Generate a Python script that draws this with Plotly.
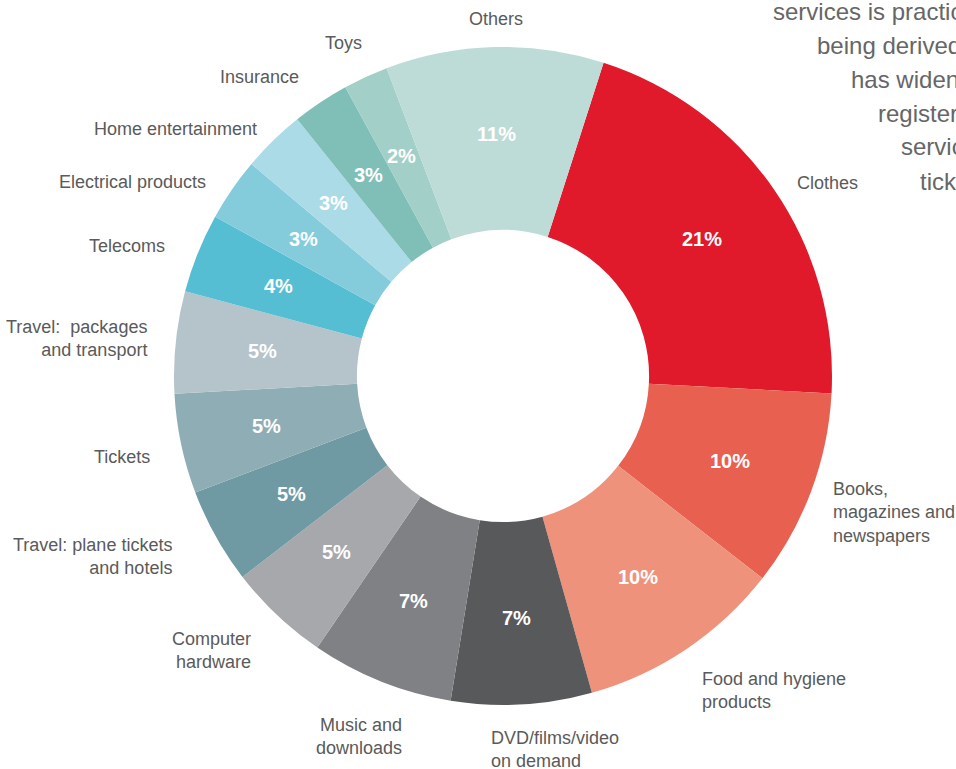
import math
import plotly.graph_objects as go

W, H = 956, 769

# ---- data ----
categories = [
    "Clothes", "Books, magazines and newspapers", "Food and hygiene products",
    "DVD/films/video on demand", "Music and downloads", "Computer hardware",
    "Travel: plane tickets and hotels", "Tickets", "Travel:  packages and transport",
    "Telecoms", "Electrical products", "Home entertainment", "Insurance", "Toys", "Others",
]
shares = [20.9, 9.7, 10.1, 6.9, 7.0, 5.0, 4.7, 4.9, 5.0, 3.9, 3.1, 3.1, 2.8, 2.2, 10.7]
display_labels = [
    "Clothes", "Books,<br>magazines and<br>newspapers", "Food and hygiene<br>products",
    "DVD/films/video<br>on demand", "Music and<br>downloads", "Computer<br>hardware",
    "Travel: plane tickets<br>and hotels", "Tickets", "Travel:  packages<br>and transport",
    "Telecoms", "Electrical products", "Home entertainment", "Insurance", "Toys", "Others",
]
side_text_lines = ["services is practically", "being derived", "has widened",
                   "registered", "services", "tickets"]

# ---- styles / positions ----
colors = [
    "#E01A2B", "#E8604F", "#EE927C", "#58595B", "#808184", "#A7A8AB",
    "#6F9AA4", "#8FADB5", "#B4C4CA", "#55BED3", "#84CBDB", "#ABDBE7",
    "#7FBFB7", "#A2CFC8", "#BDDCD7",
]
# (x px, y px, xanchor) for each outside label
label_pos = [
    (795, 183, "left"), (831, 512, "left"), (700, 690, "left"),
    (489, 749, "left"), (404, 736, "right"), (253, 650, "right"),
    (174, 556, "right"), (152, 457, "right"), (149, 339, "right"),
    (167, 246, "right"), (208, 182, "right"), (259, 129, "right"),
    (301, 77, "right"), (343, 43, "center"), (496, 19, "center"),
]
side_text_x = [771, 815, 849, 876, 899, 918]
side_text_y = [12, 45, 79, 113, 147, 181]

cx, cy, R = 503, 376, 329
START_DEG = 17.8
HOLE = 0.444
TEXT_R = 242
FONT = "Liberation Sans, Arial, sans-serif"

fig = go.Figure(go.Pie(
    labels=categories,
    values=shares,
    sort=False,
    direction="clockwise",
    rotation=START_DEG,
    hole=HOLE,
    marker=dict(colors=colors, line=dict(width=0)),
    textinfo="none",
    domain=dict(x=[(cx - R) / W, (cx + R) / W], y=[1 - (cy + R) / H, 1 - (cy - R) / H]),
    showlegend=False,
    hoverinfo="label+percent",
))

annotations = []
# percentage labels, placed at each slice's mid-angle inside the ring
total = sum(shares)
cum = 0.0
for s in shares:
    mid = math.radians(START_DEG + (cum + s / 2) / total * 360)
    cum += s
    px = cx + TEXT_R * math.sin(mid)
    py = cy - TEXT_R * math.cos(mid)
    annotations.append(dict(
        x=px / W, y=1 - py / H, xref="paper", yref="paper",
        text=f"{round(s / total * 100)}%", showarrow=False,
        xanchor="center", yanchor="middle",
        font=dict(family=FONT, size=20, color="white", weight="bold"),
    ))

for txt, (px, py, xa) in zip(display_labels, label_pos):
    annotations.append(dict(
        x=px / W, y=1 - py / H, xref="paper", yref="paper",
        text=txt, showarrow=False, xanchor=xa, yanchor="middle", align=xa,
        font=dict(family=FONT, size=18, color="#5a5a5a"),
    ))
for txt, px, py in zip(side_text_lines, side_text_x, side_text_y):
    annotations.append(dict(
        x=px / W, y=1 - py / H, xref="paper", yref="paper",
        text=txt, showarrow=False, xanchor="left", yanchor="middle", align="left",
        font=dict(family=FONT, size=24, color="#666666"),
    ))

fig.update_layout(
    width=W, height=H,
    margin=dict(l=0, r=0, t=0, b=0),
    paper_bgcolor="white", plot_bgcolor="white",
    annotations=annotations,
)

fig.write_html("out.html")
